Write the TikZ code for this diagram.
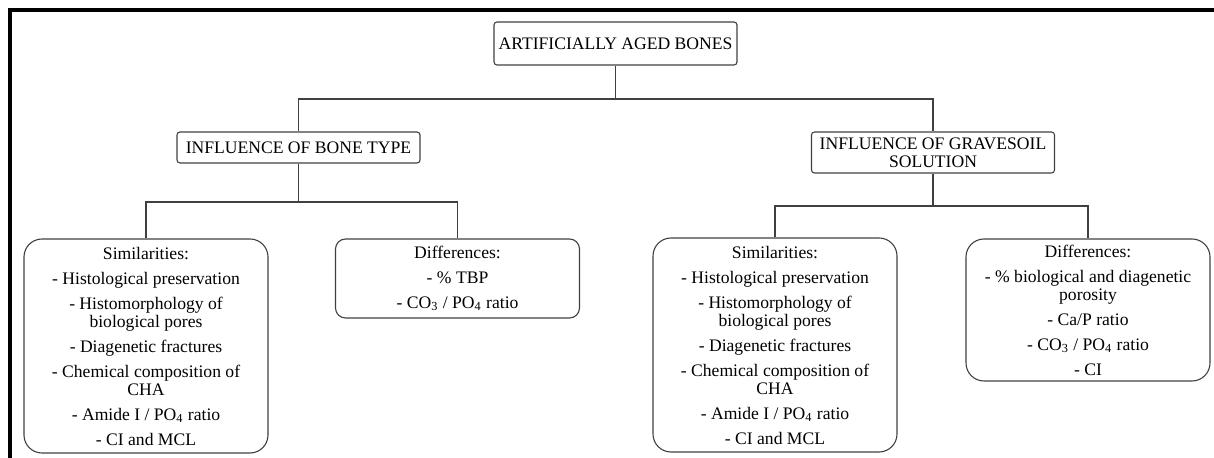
\documentclass[tikz,border=0pt]{standalone}
\usepackage{fontspec}
\setmainfont{Liberation Serif}

\begin{document}
\begin{tikzpicture}[x=0.5pt,y=-0.5pt,font=\rmfamily\fontsize{8.8}{9}\selectfont,
  head/.style={draw=black!75,line width=0.55pt,rounded corners=1.5pt,align=center,minimum width=121.5pt,inner sep=0pt},
  listbox/.style={draw=black!75,line width=0.55pt,rounded corners=9pt,align=center,minimum width=122pt,inner sep=0pt},
  link/.style={draw=black!75,line width=0.55pt}]
\useasboundingbox (0,0) rectangle (1214,458);
\draw[line width=2pt] (10,460) -- (10,10) -- (1216,10);
\node[head,minimum height=21.5pt] (root) at (615.5,43.5) {ARTIFICIALLY AGED BONES};
\node[head,minimum height=15.5pt] (bone) at (298.5,147.5) {INFLUENCE OF BONE TYPE};
\node[head,minimum height=20.5pt] (grave) at (933,152.5) {INFLUENCE OF GRAVESOIL\\SOLUTION};
\node[listbox,minimum height=107pt] (siml) at (146,346) {Similarities:\\[3.5pt]
  - Histological preservation\\[3.5pt]
  - Histomorphology of\\biological pores\\[3.5pt]
  - Diagenetic fractures\\[3.5pt]
  - Chemical composition of\\CHA\\[3.5pt]
  - Amide I / PO\textsubscript{4} ratio\\[3.5pt]
  - CI and MCL};
\node[listbox,rounded corners=5pt,minimum height=39.5pt] (diffl) at (457.5,278.5) {Differences:\\[3.5pt]
  - \% TBP\\[3.5pt]
  - CO\textsubscript{3} / PO\textsubscript{4} ratio};
\node[listbox,minimum height=107pt] (simr) at (775,345) {Similarities:\\[3.5pt]
  - Histological preservation\\[3.5pt]
  - Histomorphology of\\biological pores\\[3.5pt]
  - Diagenetic fractures\\[3.5pt]
  - Chemical composition of\\CHA\\[3.5pt]
  - Amide I / PO\textsubscript{4} ratio\\[3.5pt]
  - CI and MCL};
\node[listbox,minimum height=71pt] (diffr) at (1088,310) {Differences:\\[3.5pt]
  - \% biological and diagenetic\\porosity\\[3.5pt]
  - Ca/P ratio\\[3.5pt]
  - CO\textsubscript{3} / PO\textsubscript{4} ratio\\[3.5pt]
  - CI};
\coordinate (top) at (615.5,99);
\coordinate (lj) at (298.5,202);
\coordinate (rj) at (933,206);
\draw[link] (root.south) -- (top);
\draw[link] (top) -| (bone.north);
\draw[link] (top) -| (grave.north);
\draw[link] (bone.south) -- (lj);
\draw[link] (lj) -| (siml.north);
\draw[link] (lj) -| (diffl.north);
\draw[link] (grave.south) -- (rj);
\draw[link] (rj) -| (simr.north);
\draw[link] (rj) -| (diffr.north);
\end{tikzpicture}
\end{document}
